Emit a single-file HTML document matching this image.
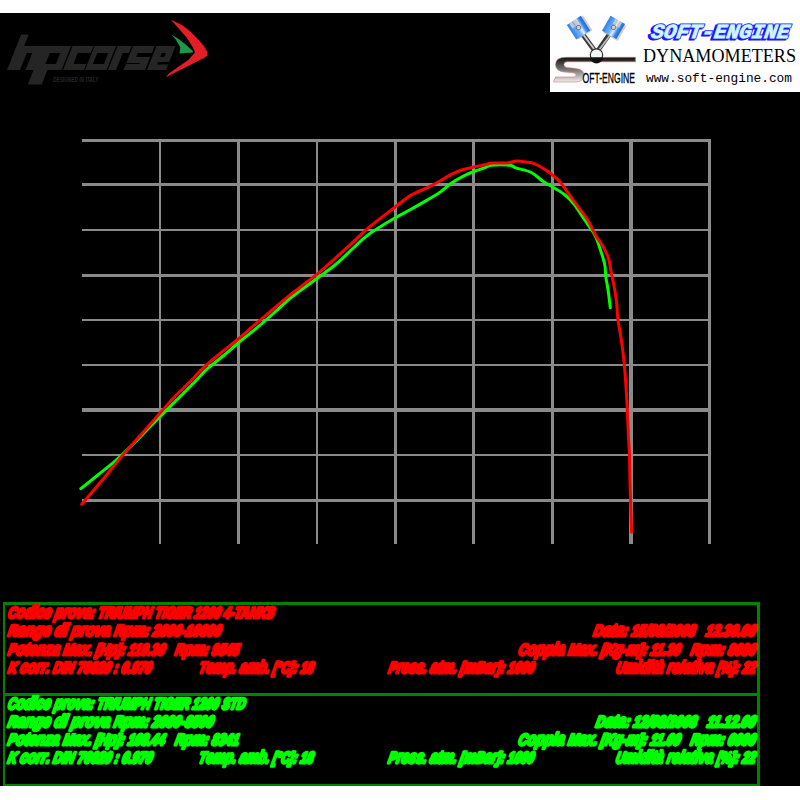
<!DOCTYPE html>
<html><head><meta charset="utf-8">
<style>
html,body{margin:0;padding:0;background:#000;width:800px;height:800px;overflow:hidden}
svg{display:block;position:absolute;left:0;top:0}
</style></head>
<body>
<svg width="800" height="800" viewBox="0 0 800 800">
<rect x="0" y="0" width="800" height="800" fill="#000"/>
<!-- top & bottom white bands -->
<rect x="0" y="0" width="800" height="13" fill="#fff"/>
<rect x="0" y="786" width="800" height="14" fill="#fff"/>

<!-- GRID -->
<g id="grid" fill="#8a8a8a">
<rect x="82" y="139" width="629" height="3"/>
<rect x="82" y="183" width="629" height="3"/>
<rect x="82" y="229" width="629" height="2"/>
<rect x="82" y="274" width="629" height="3"/>
<rect x="82" y="319" width="629" height="2"/>
<rect x="82" y="364" width="629" height="2"/>
<rect x="82" y="408" width="629" height="4"/>
<rect x="82" y="454" width="629" height="2"/>
<rect x="82" y="499" width="629" height="3"/>
<rect x="159" y="139" width="2" height="405"/>
<rect x="237" y="139" width="3" height="405"/>
<rect x="316" y="139" width="2" height="405"/>
<rect x="394" y="139" width="3" height="405"/>
<rect x="472" y="139" width="3" height="405"/>
<rect x="551" y="139" width="3" height="405"/>
<rect x="629" y="139" width="4" height="405"/>
<rect x="708" y="139" width="3" height="405"/>
</g>

<!-- CURVES -->
<path id="green" fill="none" stroke="#00ff00" stroke-width="3" stroke-linejoin="round" stroke-linecap="round" d="M80.8,488.6 C82.21,487.48 85.97,484.52 89.25,481.9 C92.53,479.28 96.75,475.90 100.5,472.9 C104.25,469.90 108.00,467.09 111.75,463.9 C115.50,460.71 118.69,457.78 123.0,453.75 C127.31,449.72 133.06,444.24 137.6,439.7 C142.14,435.16 146.08,430.77 150.25,426.5 C154.42,422.23 158.10,418.60 162.6,414.1 C167.10,409.60 172.18,404.56 177.25,399.5 C182.32,394.44 188.08,388.77 193.0,383.75 C197.92,378.73 201.83,373.94 206.75,369.4 C211.67,364.86 217.25,360.90 222.5,356.5 C227.75,352.10 232.62,347.68 238.25,343.0 C243.88,338.32 250.44,333.27 256.25,328.4 C262.06,323.52 267.64,318.60 273.1,313.75 C278.56,308.90 283.53,303.84 289.0,299.3 C294.47,294.76 301.02,290.13 305.9,286.5 C310.77,282.87 313.19,281.25 318.25,277.5 C323.31,273.75 330.44,268.88 336.25,264.0 C342.06,259.12 347.66,253.22 353.1,248.25 C358.54,243.28 361.93,239.24 368.9,234.2 C375.87,229.16 387.95,222.12 394.9,218.0 C401.85,213.88 405.17,212.52 410.6,209.5 C416.03,206.48 422.60,202.77 427.5,199.9 C432.40,197.03 436.04,195.07 440.0,192.3 C443.96,189.53 447.50,185.92 451.25,183.3 C455.00,180.68 458.75,178.57 462.5,176.6 C466.25,174.63 470.00,173.00 473.75,171.5 C477.50,170.00 482.00,168.63 485.0,167.6 C488.00,166.57 487.62,165.68 491.75,165.3 C495.88,164.92 505.62,164.83 509.75,165.3 C513.88,165.77 512.92,166.90 516.5,168.1 C520.08,169.30 526.92,170.37 531.25,172.5 C535.58,174.63 538.75,178.37 542.5,180.9 C546.25,183.43 550.00,185.35 553.75,187.7 C557.50,190.05 561.62,192.28 565.0,195.0 C568.38,197.72 571.00,200.25 574.0,204.0 C577.00,207.75 580.00,213.10 583.0,217.5 C586.00,221.90 589.83,227.07 592.0,230.4 C594.17,233.73 594.54,234.08 596.0,237.5 C597.46,240.92 599.30,246.42 600.75,250.9 C602.20,255.38 603.86,260.09 604.7,264.4 C605.54,268.71 605.23,272.44 605.8,276.75 C606.37,281.06 607.35,285.09 608.1,290.25 C608.85,295.41 609.93,304.79 610.3,307.7"/>
<path id="red" fill="none" stroke="#ff0000" stroke-width="3" stroke-linejoin="round" stroke-linecap="round" d="M81.7,504.3 C84.83,500.63 93.87,490.25 100.5,482.3 C107.13,474.35 114.92,464.35 121.5,456.6 C128.08,448.85 133.50,443.13 140.0,435.8 C146.50,428.47 154.67,419.18 160.5,412.6 C166.33,406.02 169.77,401.77 175.0,396.3 C180.23,390.83 187.36,384.37 191.9,379.8 C196.44,375.23 197.72,373.16 202.25,368.9 C206.78,364.64 213.10,359.23 219.1,354.25 C225.10,349.27 232.06,344.16 238.25,339.0 C244.44,333.84 250.44,328.26 256.25,323.3 C262.06,318.34 268.03,313.53 273.1,309.25 C278.18,304.97 281.80,301.58 286.7,297.6 C291.60,293.62 297.43,289.32 302.5,285.4 C307.57,281.48 311.48,278.79 317.1,274.1 C322.73,269.41 330.25,262.58 336.25,257.25 C342.25,251.92 347.66,247.07 353.1,242.1 C358.54,237.12 361.93,233.21 368.9,227.4 C375.87,221.59 387.95,212.58 394.9,207.25 C401.85,201.92 405.17,198.68 410.6,195.4 C416.03,192.12 422.60,190.00 427.5,187.6 C432.40,185.20 436.04,183.22 440.0,181.0 C443.96,178.78 447.50,176.17 451.25,174.3 C455.00,172.43 458.75,171.02 462.5,169.8 C466.25,168.58 470.00,167.84 473.75,167.0 C477.50,166.16 481.81,165.42 485.0,164.75 C488.19,164.08 489.15,163.29 492.9,163.0 C496.65,162.71 503.57,163.32 507.5,163.0 C511.43,162.68 513.12,161.22 516.5,161.1 C519.88,160.98 524.92,161.93 527.75,162.3 C530.58,162.67 531.04,162.35 533.5,163.3 C535.96,164.25 539.50,166.18 542.5,168.0 C545.50,169.82 548.50,171.77 551.5,174.2 C554.50,176.63 557.50,179.13 560.5,182.6 C563.50,186.07 566.50,190.87 569.5,195.0 C572.50,199.13 575.50,203.28 578.5,207.4 C581.50,211.53 584.54,214.94 587.5,219.75 C590.46,224.56 593.67,231.81 596.25,236.25 C598.83,240.69 600.94,242.65 603.0,246.4 C605.06,250.15 607.20,254.25 608.6,258.75 C610.00,263.25 610.46,268.71 611.4,273.4 C612.34,278.09 613.40,282.22 614.25,286.9 C615.10,291.58 615.89,296.08 616.5,301.5 C617.11,306.92 617.18,313.55 617.9,319.4 C618.62,325.25 619.95,331.10 620.8,336.6 C621.65,342.10 622.40,347.60 623.0,352.4 C623.60,357.20 623.93,360.13 624.4,365.4 C624.87,370.67 625.32,376.82 625.8,384.0 C626.28,391.18 626.87,399.95 627.3,408.5 C627.73,417.05 628.03,427.45 628.4,435.3 C628.77,443.15 629.23,448.05 629.5,455.6 C629.77,463.15 629.82,473.03 630.0,480.6 C630.18,488.17 630.33,492.40 630.6,501.0 C630.87,509.60 631.43,527.00 631.6,532.2"/>

<!-- TEXT BOX -->
<g id="box" fill="#008400">
<rect x="3" y="602" width="757" height="3"/>
<rect x="3" y="602" width="2" height="184"/>
<rect x="757" y="602" width="3" height="184"/>
<rect x="3" y="693" width="757" height="3"/>
<rect x="3" y="784" width="757" height="2"/>
</g>

<!--TEXTSTART-->
<g font-family="Liberation Sans" font-weight="bold" font-style="italic" font-size="15.6" fill="#ff0000" stroke="#ff0000" stroke-width="3.0" stroke-linejoin="round">
<text xml:space="preserve" x="7.30" y="617.7" textLength="266.00" lengthAdjust="spacingAndGlyphs" transform="translate(7,617.7) skewX(-12) translate(-7,-617.7)">C<tspan font-size="17.47">odice prova</tspan>: TRIUMPH TIGER 1200 4-TANKS</text>
<text xml:space="preserve" x="7.30" y="636.2" textLength="213.00" lengthAdjust="spacingAndGlyphs" transform="translate(7,636.2) skewX(-12) translate(-7,-636.2)">R<tspan font-size="17.47">ange di prova </tspan>R<tspan font-size="17.47">pm</tspan>: 2000-10000</text>
<text xml:space="preserve" x="592.80" y="636.2" textLength="162.00" lengthAdjust="spacingAndGlyphs" transform="translate(592.5,636.2) skewX(-12) translate(-592.5,-636.2)">D<tspan font-size="17.47">ata</tspan>: 15/08/2008   12.30.00</text>
<text xml:space="preserve" x="7.30" y="654.7" textLength="231.00" lengthAdjust="spacingAndGlyphs" transform="translate(7,654.7) skewX(-12) translate(-7,-654.7)">P<tspan font-size="17.47">otenza </tspan>M<tspan font-size="17.47">ax</tspan>. [H<tspan font-size="17.47">p</tspan>]: 119.30   R<tspan font-size="17.47">pm</tspan>: 9545</text>
<text xml:space="preserve" x="517.80" y="654.7" textLength="237.00" lengthAdjust="spacingAndGlyphs" transform="translate(517.5,654.7) skewX(-12) translate(-517.5,-654.7)">C<tspan font-size="17.47">oppia </tspan>M<tspan font-size="17.47">ax</tspan>. [K<tspan font-size="17.47">g</tspan>-<tspan font-size="17.47">m</tspan>]: 11.30   R<tspan font-size="17.47">pm</tspan>: 8030</text>
<text xml:space="preserve" x="7.30" y="672.7" textLength="143.50" lengthAdjust="spacingAndGlyphs" transform="translate(7,672.7) skewX(-12) translate(-7,-672.7)">K <tspan font-size="17.47">corr</tspan>. DIN 70020 : 0.970</text>
<text xml:space="preserve" x="198.30" y="672.7" textLength="114.50" lengthAdjust="spacingAndGlyphs" transform="translate(198,672.7) skewX(-12) translate(-198,-672.7)">T<tspan font-size="17.47">emp</tspan>. <tspan font-size="17.47">amb</tspan>. [°C]: 18</text>
<text xml:space="preserve" x="387.80" y="672.7" textLength="145.50" lengthAdjust="spacingAndGlyphs" transform="translate(387.5,672.7) skewX(-12) translate(-387.5,-672.7)">P<tspan font-size="17.47">ress</tspan>. <tspan font-size="17.47">atm</tspan>. [<tspan font-size="17.47">m</tspan>B<tspan font-size="17.47">ar</tspan>]: 1000</text>
<text xml:space="preserve" x="615.30" y="672.7" textLength="139.50" lengthAdjust="spacingAndGlyphs" transform="translate(615,672.7) skewX(-12) translate(-615,-672.7)">U<tspan font-size="17.47">midità relativa </tspan>[%]: 22</text>
</g>
<g font-family="Liberation Sans" font-weight="bold" font-style="italic" font-size="15.6" fill="#00ff00" stroke="#00ff00" stroke-width="3.0" stroke-linejoin="round">
<text xml:space="preserve" x="7.30" y="709.4" textLength="237.50" lengthAdjust="spacingAndGlyphs" transform="translate(7,709.4) skewX(-12) translate(-7,-709.4)">C<tspan font-size="17.47">odice prova</tspan>: TRIUMPH TIGER 1200 STD</text>
<text xml:space="preserve" x="7.30" y="727.4" textLength="205.50" lengthAdjust="spacingAndGlyphs" transform="translate(7,727.4) skewX(-12) translate(-7,-727.4)">R<tspan font-size="17.47">ange di prova </tspan>R<tspan font-size="17.47">pm</tspan>: 2000-8500</text>
<text xml:space="preserve" x="595.30" y="727.4" textLength="159.50" lengthAdjust="spacingAndGlyphs" transform="translate(595,727.4) skewX(-12) translate(-595,-727.4)">D<tspan font-size="17.47">ata</tspan>: 12/08/2008   11.12.00</text>
<text xml:space="preserve" x="7.30" y="745.4" textLength="231.00" lengthAdjust="spacingAndGlyphs" transform="translate(7,745.4) skewX(-12) translate(-7,-745.4)">P<tspan font-size="17.47">otenza </tspan>M<tspan font-size="17.47">ax</tspan>. [H<tspan font-size="17.47">p</tspan>]: 108.44   R<tspan font-size="17.47">pm</tspan>: 8341</text>
<text xml:space="preserve" x="517.80" y="745.4" textLength="237.00" lengthAdjust="spacingAndGlyphs" transform="translate(517.5,745.4) skewX(-12) translate(-517.5,-745.4)">C<tspan font-size="17.47">oppia </tspan>M<tspan font-size="17.47">ax</tspan>. [K<tspan font-size="17.47">g</tspan>-<tspan font-size="17.47">m</tspan>]: 11.00   R<tspan font-size="17.47">pm</tspan>: 6000</text>
<text xml:space="preserve" x="7.30" y="763.4" textLength="144.50" lengthAdjust="spacingAndGlyphs" transform="translate(7,763.4) skewX(-12) translate(-7,-763.4)">K <tspan font-size="17.47">corr</tspan>. DIN 70020 : 0.970</text>
<text xml:space="preserve" x="198.30" y="763.4" textLength="114.50" lengthAdjust="spacingAndGlyphs" transform="translate(198,763.4) skewX(-12) translate(-198,-763.4)">T<tspan font-size="17.47">emp</tspan>. <tspan font-size="17.47">amb</tspan>. [°C]: 18</text>
<text xml:space="preserve" x="387.80" y="763.4" textLength="145.50" lengthAdjust="spacingAndGlyphs" transform="translate(387.5,763.4) skewX(-12) translate(-387.5,-763.4)">P<tspan font-size="17.47">ress</tspan>. <tspan font-size="17.47">atm</tspan>. [<tspan font-size="17.47">m</tspan>B<tspan font-size="17.47">ar</tspan>]: 1000</text>
<text xml:space="preserve" x="615.30" y="763.4" textLength="139.50" lengthAdjust="spacingAndGlyphs" transform="translate(615,763.4) skewX(-12) translate(-615,-763.4)">U<tspan font-size="17.47">midità relativa </tspan>[%]: 22</text>
</g>
<!--TEXTEND-->

<!-- SOFT-ENGINE LOGO BOX -->
<rect x="550" y="13" width="250" height="79" fill="#fefefe"/>
<defs>
<linearGradient id="pblue" x1="0" y1="0" x2="1" y2="0">
<stop offset="0" stop-color="#2f7fe8"/><stop offset="0.45" stop-color="#7ab8ff"/><stop offset="0.6" stop-color="#e8f4ff"/><stop offset="0.8" stop-color="#3a88ee"/><stop offset="1" stop-color="#1e6ad8"/>
</linearGradient>
<linearGradient id="sgrad" x1="0" y1="0" x2="0" y2="1">
<stop offset="0" stop-color="#111"/><stop offset="0.5" stop-color="#777"/><stop offset="1" stop-color="#eee"/>
</linearGradient>
</defs>
<g id="pistons">
 <!-- rods -->
 <path d="M582.5,34 L594.5,50.5" stroke="#3a3a3a" stroke-width="4.8" fill="none"/>
 <path d="M609.5,34 L598,50.5" stroke="#3a3a3a" stroke-width="4.8" fill="none"/>
 <path d="M583.2,34.5 L594.8,50" stroke="#d0d0d0" stroke-width="1.8" fill="none"/>
 <path d="M610.3,35 L599,50" stroke="#b8b8b8" stroke-width="1.8" fill="none"/>
 <!-- left piston -->
 <g transform="translate(578.5,27.6) rotate(-33)">
  <rect x="-6.3" y="-7.6" width="16.6" height="17.3" fill="#aaa" opacity="0.6"/>
  <rect x="-8.3" y="-8.6" width="16.6" height="17.3" fill="url(#pblue)"/>
  <rect x="-5.5" y="-8.6" width="3" height="6" fill="#c8c8c8"/>
  <rect x="-1" y="-8.6" width="3" height="6" fill="#c8c8c8"/>
  <circle cx="0" cy="0" r="2.3" fill="#ccc" stroke="#555" stroke-width="0.7"/>
 </g>
 <g transform="translate(613.5,27.4) rotate(30)">
  <rect x="-6.3" y="-7.6" width="16.6" height="17.3" fill="#aaa" opacity="0.6"/>
  <rect x="-8.3" y="-8.6" width="16.6" height="17.3" fill="url(#pblue)"/>
  <rect x="-2.5" y="-8.6" width="3" height="6" fill="#c8c8c8"/>
  <rect x="2" y="-8.6" width="3" height="6" fill="#c8c8c8"/>
  <circle cx="0" cy="0" r="2.3" fill="#ccc" stroke="#555" stroke-width="0.7"/>
 </g>
</g>
<!-- S bar -->
<path d="M566,57.3 L635.5,57.3 L635.5,61.8 L567,61.8 Q564,62 564,64.5 Q564,67 567,67.5 L576,68.5 Q584,69.5 584,75 Q584,82 575,82 L553.5,82 L555.5,77 L573,77 Q576,77 576,75 Q576,73 573,72.8 L564,72 Q555.5,71 555.5,64.5 Q555.5,57.3 566,57.3 Z" fill="url(#sgrad)" stroke="#d77" stroke-width="0.6"/>
<circle cx="596.5" cy="55" r="6.2" fill="#f4f4f4" stroke="#333" stroke-width="1.2"/>
<path d="M590.3,57.3 L602.7,57.3 A6.2,6.2 0 0 1 590.3,57.3 Z" fill="#111"/>
<text x="582.5" y="82.5" font-family="Liberation Sans" font-size="15.5" fill="#000" stroke="#000" stroke-width="0.35" textLength="52.5" lengthAdjust="spacingAndGlyphs">OFT-ENGINE</text>
<!-- SOFT-ENGINE blue -->
<g font-family="Liberation Mono" font-weight="bold" font-style="italic" font-size="20" stroke-linejoin="miter">
<text x="648.8" y="39.1" fill="#1414ff" stroke="#1414ff" stroke-width="2.8" textLength="138" lengthAdjust="spacingAndGlyphs" transform="translate(648,39.6) skewX(-8) translate(-648,-39.6)">SOFT-ENGINE</text>
<text x="650.5" y="37.9" fill="#2c2cff" stroke="#2c2cff" stroke-width="2.6" textLength="138" lengthAdjust="spacingAndGlyphs" transform="translate(648,39.6) skewX(-8) translate(-648,-39.6)">SOFT-ENGINE</text>
<text x="650.5" y="37.9" fill="#cdf7ff" stroke="#cdf7ff" stroke-width="0.8" textLength="138" lengthAdjust="spacingAndGlyphs" transform="translate(648,39.6) skewX(-8) translate(-648,-39.6)">SOFT-ENGINE</text>
</g>
<text x="643" y="62" font-family="Liberation Serif" font-size="19" fill="#000" textLength="153" lengthAdjust="spacingAndGlyphs">DYNAMOMETERS</text>
<text x="646" y="82" font-family="Liberation Mono" font-size="13" fill="#000" textLength="146" lengthAdjust="spacingAndGlyphs">www.soft-engine.com</text>

<!-- HP CORSE LOGO -->
<path id="hpc" d="M21.20,34.50 L28.70,34.50 L23.90,46.50 L16.40,46.50 Z M16.60,46.00 L29.60,46.00 L20.00,70.00 L7.00,70.00 Z M16.60,46.00 L71.10,46.00 L68.30,53.00 L13.80,53.00 Z M32.30,53.00 L49.80,53.00 L43.00,70.00 L25.50,70.00 Z M27.90,64.00 L63.90,64.00 L61.50,70.00 L25.50,70.00 Z M63.10,46.00 L71.10,46.00 L61.50,70.00 L53.50,70.00 Z M33.90,69.00 L47.90,69.00 L41.70,84.50 L27.70,84.50 Z M72.60,46.00 L93.60,46.00 L90.80,53.00 L69.80,53.00 Z M72.60,46.00 L80.60,46.00 L71.00,70.00 L63.00,70.00 Z M65.40,64.00 L86.40,64.00 L84.00,70.00 L63.00,70.00 Z M94.60,46.00 L116.10,46.00 L113.30,53.00 L91.80,53.00 Z M87.40,64.00 L108.90,64.00 L106.50,70.00 L85.00,70.00 Z M94.60,46.00 L100.10,46.00 L90.50,70.00 L85.00,70.00 Z M111.10,46.00 L116.10,46.00 L106.50,70.00 L101.50,70.00 Z M117.60,46.00 L125.60,46.00 L116.00,70.00 L108.00,70.00 Z M117.60,46.00 L131.60,46.00 L128.80,53.00 L114.80,53.00 Z M133.10,46.00 L154.60,46.00 L151.80,53.00 L130.30,53.00 Z M133.10,46.00 L140.60,46.00 L135.00,60.00 L127.50,60.00 Z M128.70,57.00 L150.20,57.00 L147.80,63.00 L126.30,63.00 Z M142.20,57.00 L150.20,57.00 L145.00,70.00 L137.00,70.00 Z M125.90,64.00 L147.40,64.00 L145.00,70.00 L123.50,70.00 Z M156.60,46.00 L175.60,46.00 L172.80,53.00 L153.80,53.00 Z M156.60,46.00 L164.60,46.00 L155.00,70.00 L147.00,70.00 Z M168.60,46.00 L175.60,46.00 L170.00,60.00 L163.00,60.00 Z M152.20,57.00 L171.20,57.00 L169.20,62.00 L150.20,62.00 Z M149.20,64.50 L168.20,64.50 L166.00,70.00 L147.00,70.00 Z" fill="#252525"/>
<text x="53" y="82" font-family="Liberation Sans" font-weight="bold" font-style="italic" font-size="7.6" fill="#262626" textLength="45.5" lengthAdjust="spacingAndGlyphs">DESIGNED IN ITALY</text>
<polygon id="chev-r" points="170.6,19.5 176.3,22.3 182.8,25.6 190.9,32.1 198.2,39.4 203.9,45.9 207.2,51.6 207.6,55.6 203.9,58.1 194.1,63 184.4,67.8 174.6,72.7 165.7,77.6 168.9,73.5 180.3,65.4 188.5,59.7 195,52.4 192.5,46.7 186.8,37.8 181.1,31.3 175.4,24.75" fill="#e31e26"/>
<polygon id="chev-g" points="171.4,34.5 177.9,38.6 184.4,43.5 192.5,50.8 193.3,52.6 179.5,53.4 180.3,47.5 176.3,40.2" fill="#1a9a48"/>

</svg>
</body></html>
